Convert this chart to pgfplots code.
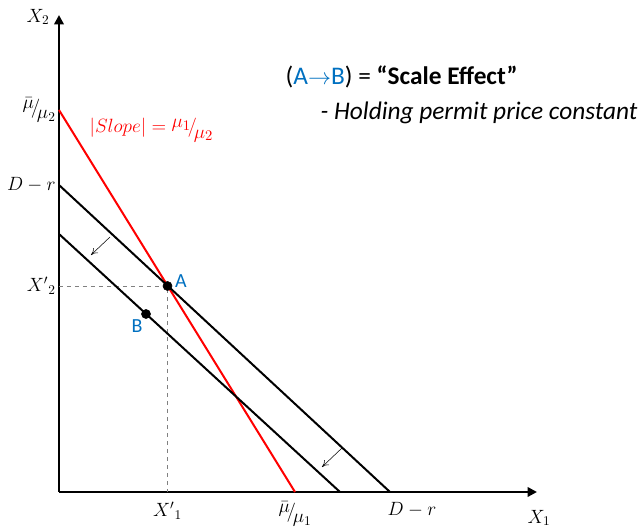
\documentclass[border=0pt]{standalone}
\usepackage{pgfplots}
\pgfplotsset{compat=1.18}
\usepackage{fontspec}
\setmainfont{Carlito}
\usetikzlibrary{arrows.meta}
\definecolor{offblue}{RGB}{0,112,192}
\newcommand{\sfrac}[2]{\raisebox{0.55ex}{$#1$}\!\big/\!\raisebox{-0.55ex}{$#2$}}
\begin{document}
\begin{tikzpicture}
\begin{axis}[
 scale only axis, width=358.5pt, height=357.75pt,
 xmin=0,xmax=478,ymin=0,ymax=477,
 axis lines=left,
 axis line style={line width=1.8pt, -{Triangle[length=7pt,width=7pt]}},
 clip=false,
 xtick={108.5,236,353}, xticklabels={${X'}_1$, $\sfrac{\bar\mu}{\mu_1}$, $D-r$},
 ytick={206,307,382}, yticklabels={${X'}_2$,$D-r$,$\sfrac{\bar\mu}{\mu_2}$},
 major tick length=0pt,
 tick label style={font=\fontsize{14}{16}\selectfont},
 xticklabel style={yshift=-4pt},
 yticklabel style={xshift=1pt},
]
\addplot[gray, dashed, thin] coordinates {(0,206) (108.5,206) (108.5,0)};
\addplot[red, line width=1.5pt] coordinates {(0,382) (236,0)};
\addplot[black, line width=1.5pt] coordinates {(0,307) (331,0)};
\addplot[black, line width=1.5pt] coordinates {(0,258) (281,0)};
\addplot[black, thin, -{To[length=5pt,width=5pt]}] coordinates {(51,255) (32,237)};
\addplot[black, thin, -{To[length=5pt,width=5pt]}] coordinates {(283,44) (263,25)};
\addplot[only marks, mark=*, mark size=3.4pt, black] coordinates {(108.5,206) (87,178)};
\node[text=offblue, font=\fontsize{15}{17}\selectfont] at (axis cs:122,211) {A};
\node[text=offblue, font=\fontsize{15}{17}\selectfont] at (axis cs:78,166) {B};
\node[text=red, anchor=west, font=\fontsize{15.5}{17}\selectfont] at (axis cs:26,362) {$|Slope| = \sfrac{\mu_1}{\mu_2}$};
\node[anchor=west, font=\fontsize{19}{21}\selectfont] at (axis cs:222,415) {(\textcolor{offblue}{A$\rightarrow$B}) = \textbf{“Scale Effect”}};
\node[anchor=west, font=\fontsize{19}{21}\selectfont\itshape] at (axis cs:257,379) {- Holding permit price constant};
\node[font=\fontsize{14}{16}\selectfont] at (axis cs:-21,475) {$X_2$};
\node[font=\fontsize{14}{16}\selectfont] at (axis cs:480,-26) {$X_1$};
\coordinate (bl) at (axis cs:-59,-39);
\coordinate (tr) at (axis cs:584,492);
\end{axis}
\pgfresetboundingbox
\path[use as bounding box] (bl) rectangle (tr);
\end{tikzpicture}
\end{document}
